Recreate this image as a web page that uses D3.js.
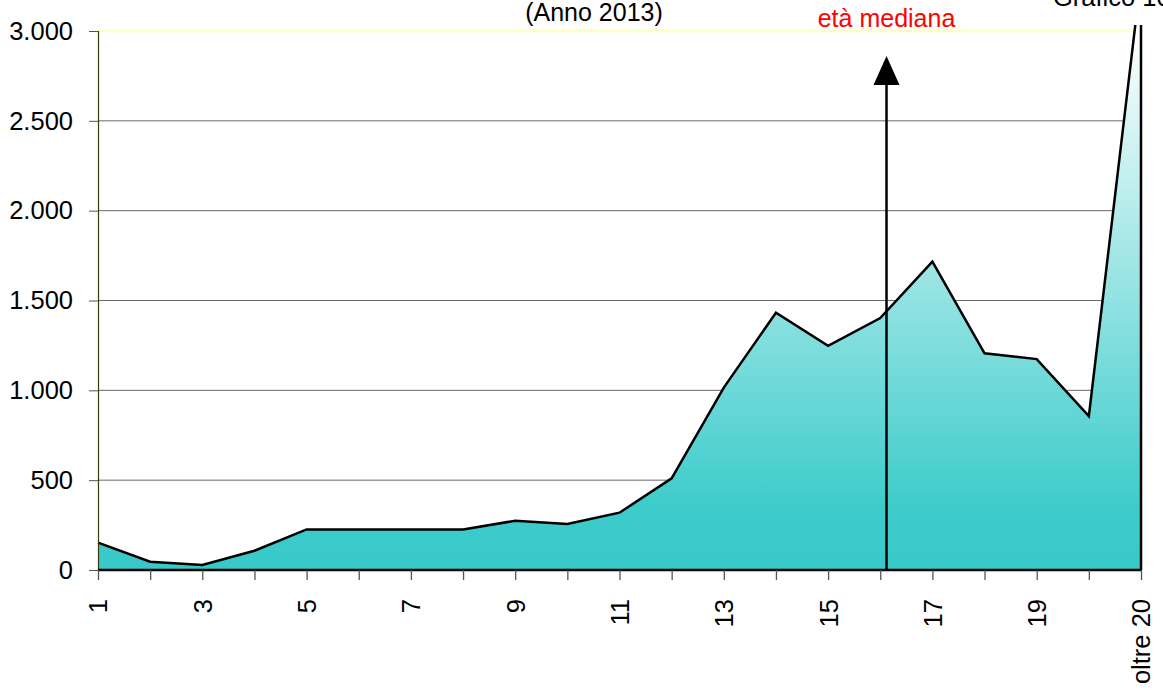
<!DOCTYPE html>
<html><head><meta charset="utf-8">
<script src="https://cdn.jsdelivr.net/npm/d3@7"></script>
<style>
html,body{margin:0;padding:0;background:#fff;}
svg{display:block;font-family:"Liberation Sans",Arial,sans-serif;}
</style></head>
<body>
<svg id="chart" width="1163" height="697"></svg>
<script>
const categories = ["1","2","3","4","5","6","7","8","9","10","11","12","13","14","15","16","17","18","19","20","oltre 20"];
const values = [152,46,28,107,226,226,226,226,274,256,319,510,1015,1432,1248,1402,1716,1206,1174,857,3300];
const yTicks = [0,500,1000,1500,2000,2500,3000];
const medianAge = 16.12;
const titleText = "(Anno 2013)";
const medianLabel = "età mediana";
const chartLabel = "Grafico 10";

const svg = d3.select("#chart");
const x = d3.scaleLinear().domain([0, categories.length - 1]).range([98, 1141]);
const y = d3.scaleLinear().domain([0, 3000]).range([570, 31]);
const fmt = v => d3.format(",")(v).replace(/,/g, ".");

const defs = svg.append("defs");
const grad = defs.append("linearGradient").attr("id","g").attr("gradientUnits","userSpaceOnUse")
  .attr("x1",0).attr("x2",0).attr("y1",y(0)).attr("y2",26);
grad.append("stop").attr("offset","0%").attr("stop-color","#37C9C8");
grad.append("stop").attr("offset","12%").attr("stop-color","#3ECCCB");
grad.append("stop").attr("offset","100%").attr("stop-color","#FFFFFF");
defs.append("clipPath").attr("id","clip").append("rect").attr("x",90).attr("y",25).attr("width",1070).attr("height",560);

// gridlines
svg.append("g").selectAll("line").data(yTicks.filter(d => d > 0)).join("line")
  .attr("x1", 98).attr("x2", 1141).attr("y1", d => y(d)).attr("y2", d => y(d))
  .attr("stroke", d => d === 3000 ? "#FFFFC8" : "#6a6a6a").attr("stroke-width", d => d === 3000 ? 2.5 : 1);

// area
const area = d3.area().x((d,i) => x(i)).y0(y(0)).y1(d => y(d));
const line = d3.line().x((d,i) => x(i)).y(d => y(d));
const g = svg.append("g").attr("clip-path","url(#clip)");
g.append("path").datum(values).attr("d", area).attr("fill","url(#g)");
g.append("path").datum(values).attr("d", d => line(d) + `L${x(values.length-1)},${y(0)}`)
  .attr("fill","none").attr("stroke","#000").attr("stroke-width",2.5).attr("stroke-linejoin","miter");

// y axis
const yAxis = svg.append("g").attr("transform","translate(98,0)")
  .call(d3.axisLeft(y).tickValues(yTicks).tickFormat(fmt).tickSize(9).tickPadding(16));
yAxis.select(".domain").attr("stroke","#3a3a10").attr("stroke-width",1.2);
yAxis.selectAll(".tick line").attr("stroke","#555");
yAxis.selectAll("text").attr("font-size",25.5).attr("fill","#000").attr("font-family","Liberation Sans, Arial, sans-serif");

// x axis
const xAxis = svg.append("g").attr("transform",`translate(0,${y(0)})`)
  .call(d3.axisBottom(x).tickValues(d3.range(categories.length)).tickFormat(i => i % 2 === 0 ? categories[i] : "").tickSize(10).tickPadding(0));
xAxis.select(".domain").attr("stroke","#000").attr("stroke-width",2.5).attr("d",`M98,0H1141`);
xAxis.selectAll(".tick line").attr("stroke","#555").attr("stroke-width",1.3);
xAxis.selectAll("text").attr("font-size",25.5).attr("fill","#000").attr("font-family","Liberation Sans, Arial, sans-serif")
  .attr("transform","rotate(-90)").attr("text-anchor","end").attr("x",-29).attr("y",0).attr("dy","0.35em");

// median arrow
const mx = x(medianAge - 1);
svg.append("line").attr("x1",mx).attr("x2",mx).attr("y1",y(0)).attr("y2",84).attr("stroke","#000").attr("stroke-width",2.5);
svg.append("path").attr("d",`M${mx},56L${mx-13},85L${mx+13},85Z`).attr("fill","#000");
svg.append("text").attr("x",mx).attr("y",27).attr("text-anchor","middle").attr("fill","#FF0000").attr("font-size",25).text(medianLabel);

// titles
svg.append("text").attr("x",594).attr("y",21).attr("text-anchor","middle").attr("font-size",25).attr("fill","#000").text(titleText);
svg.append("text").attr("x",1053).attr("y",6).attr("font-size",25.5).attr("fill","#000").text(chartLabel);
</script>
</body></html>
